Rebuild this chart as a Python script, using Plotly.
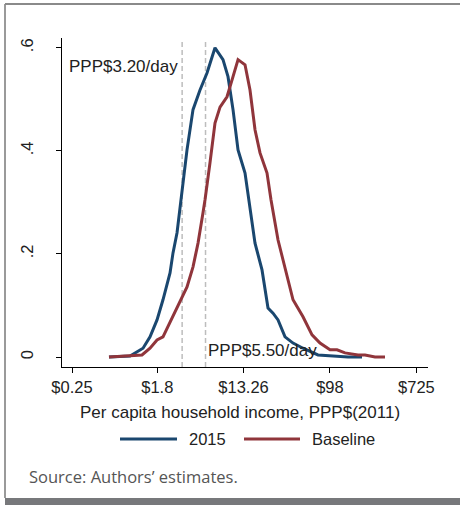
import numpy as np
import plotly.graph_objects as go

# Kernel density of log per-capita household income (PPP$ 2011)
log_income_2015 = [-0.530, -0.043, 0.258, 0.420, 0.582, 0.720, 0.883, 0.952, 1.045, 1.137,
                   1.276, 1.415, 1.577, 1.739, 1.924, 2.109, 2.225, 2.341, 2.457, 2.619,
                   2.711, 2.850, 3.012, 3.151, 3.267, 3.383, 3.545, 3.730, 3.961, 4.308,
                   4.656, 5.003, 5.327]
density_2015 = [0.000, 0.002, 0.017, 0.039, 0.072, 0.111, 0.163, 0.202, 0.241, 0.305,
                0.402, 0.480, 0.518, 0.551, 0.600, 0.577, 0.544, 0.480, 0.402, 0.357,
                0.305, 0.221, 0.169, 0.095, 0.085, 0.072, 0.039, 0.027, 0.017, 0.004,
                0.002, 0.000, 0.000]

log_income_base = [-0.530, -0.043, 0.234, 0.420, 0.582, 0.720, 0.883, 1.045, 1.276, 1.415,
                   1.531, 1.646, 1.693, 1.808, 1.924, 2.040, 2.202, 2.341, 2.457, 2.619,
                   2.734, 2.850, 2.966, 3.128, 3.220, 3.383, 3.545, 3.730, 3.961, 4.170,
                   4.355, 4.586, 4.748, 4.933, 5.234, 5.396, 5.628, 5.859]
density_base = [0.000, 0.002, 0.004, 0.017, 0.033, 0.039, 0.068, 0.097, 0.136, 0.175,
                0.221, 0.280, 0.305, 0.377, 0.454, 0.485, 0.505, 0.544, 0.577, 0.567,
                0.518, 0.441, 0.396, 0.357, 0.305, 0.227, 0.175, 0.111, 0.078, 0.043,
                0.027, 0.014, 0.014, 0.008, 0.004, 0.004, 0.000, 0.000]

series_names = ["2015", "Baseline"]
series_colors = ["#1a476f", "#90353b"]

# Poverty lines (PPP$ per day)
poverty_lines = [3.20, 5.50]
poverty_labels = ["PPP$3.20/day", "PPP$5.50/day"]

# Axis ticks
x_tick_income = [0.25, 1.8, 13.26, 98, 725]
x_tick_labels = ["$0.25", "$1.8", "$13.26", "$98", "$725"]
y_tick_vals = [0, 0.2, 0.4, 0.6]
y_tick_labels = ["0", ".2", ".4", ".6"]

x_title = "Per capita household income, PPP$(2011)"
source_note = "Source: Authors\u2019 estimates."

W, H = 460, 505
L, R, T, B = 62, 32, 38, 138
pw, ph = W - L - R, H - T - B


def px_x(p):
    return (p - L) / pw


def px_y(p):
    return (H - B - p) / ph


FONT = "Liberation Sans, Arial, sans-serif"
TXT = "#222222"

fig = go.Figure()
for xs, ys, nm, col in [(log_income_2015, density_2015, series_names[0], series_colors[0]),
                        (log_income_base, density_base, series_names[1], series_colors[1])]:
    fig.add_trace(go.Scatter(x=xs, y=ys, mode="lines", name=nm, showlegend=False,
                             line=dict(color=col, width=3), hoverinfo="skip"))

shapes = []
annotations = []

# Dashed poverty lines
for pl in poverty_lines:
    shapes.append(dict(type="line", xref="x", yref="paper", x0=np.log(pl), x1=np.log(pl),
                       y0=0, y1=px_y(40), line=dict(color="#bdbdbd", width=1.5, dash="5px,3px"),
                       layer="below"))

annotations.append(dict(x=np.log(poverty_lines[0]), y=0.563, xref="x", yref="y",
                        text=poverty_labels[0], showarrow=False, xanchor="right",
                        yanchor="middle", xshift=-2, font=dict(family=FONT, size=17, color=TXT)))
annotations.append(dict(x=np.log(poverty_lines[1]), y=0.012, xref="x", yref="y",
                        text=poverty_labels[1], showarrow=False, xanchor="left",
                        yanchor="middle", xshift=0, font=dict(family=FONT, size=17, color=TXT)))

# Axis title
annotations.append(dict(x=px_x(240), y=px_y(412), xref="paper", yref="paper", text=x_title,
                        showarrow=False, xanchor="center", yanchor="middle",
                        font=dict(family=FONT, size=17, color=TXT)))

# Legend
legend_items = [(120, 177, 187), (244, 300, 310)]
for (lx0, lx1, tx), nm, col in zip(legend_items, series_names, series_colors):
    shapes.append(dict(type="line", xref="paper", yref="paper", x0=px_x(lx0), x1=px_x(lx1),
                       y0=px_y(439), y1=px_y(439), line=dict(color=col, width=3)))
    annotations.append(dict(x=px_x(tx), y=px_y(439), xref="paper", yref="paper", text=nm,
                            showarrow=False, xanchor="left", yanchor="middle",
                            font=dict(family=FONT, size=16.5, color=TXT)))

# Source note
annotations.append(dict(x=px_x(27), y=px_y(476), xref="paper", yref="paper", text=source_note,
                        showarrow=False, xanchor="left", yanchor="middle",
                        font=dict(family="Open Sans, sans-serif", size=16.5, color="#555555")))

# Outer frame
shapes.append(dict(type="line", xref="paper", yref="paper", x0=px_x(5), x1=px_x(5),
                   y0=px_y(4), y1=px_y(498), line=dict(color="#9a9a9a", width=2)))
shapes.append(dict(type="line", xref="paper", yref="paper", x0=px_x(5), x1=px_x(460),
                   y0=px_y(4), y1=px_y(4), line=dict(color="#8a8a8a", width=2)))
shapes.append(dict(type="rect", xref="paper", yref="paper", x0=px_x(5), x1=px_x(462),
                   y0=px_y(498), y1=px_y(506), line=dict(width=0), fillcolor="#77787b"))

x_lo = np.log(x_tick_income[0]) - 10 / 43.2
x_hi = np.log(x_tick_income[0]) + 356 / 43.2

fig.update_layout(
    width=W, height=H,
    margin=dict(l=L, r=R, t=T, b=B),
    paper_bgcolor="white", plot_bgcolor="white",
    shapes=shapes, annotations=annotations,
    showlegend=False,
    xaxis=dict(range=[x_lo, x_hi], tickvals=list(np.log(x_tick_income)), ticktext=x_tick_labels,
               showgrid=False, zeroline=False, showline=True, linecolor="#000000", linewidth=1,
               ticks="outside", ticklen=5, tickcolor="#000000",
               tickfont=dict(family=FONT, size=16.5, color=TXT)),
    yaxis=dict(range=[-0.0194, 0.619], tickvals=y_tick_vals, ticktext=y_tick_labels,
               showgrid=False, zeroline=False, showline=True, linecolor="#000000", linewidth=1,
               ticks="outside", ticklen=5, tickcolor="#000000", tickangle=-90,
               ticklabelstandoff=16,
               tickfont=dict(family=FONT, size=16.5, color=TXT)),
)

fig.write_html("out.html")
